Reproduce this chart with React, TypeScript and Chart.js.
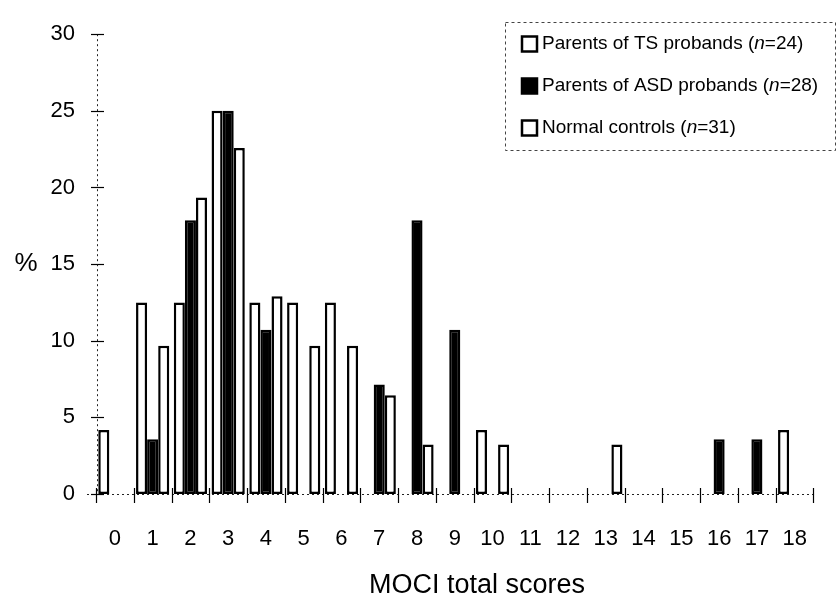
import React, { useEffect, useRef } from 'react';
import { Chart, registerables } from 'chart.js';

Chart.register(...registerables);

const categories = ['0', '1', '2', '3', '4', '5', '6', '7', '8', '9', '10', '11', '12', '13', '14', '15', '16', '17', '18'];
const tsValues = [4.17, 12.5, 12.5, 25, 12.5, 12.5, 12.5, 0, 0, 0, 4.17, 0, 0, 0, 0, 0, 0, 0, 4.17];
const asdValues = [0, 3.57, 17.86, 25, 10.71, 0, 0, 7.14, 17.86, 10.71, 0, 0, 0, 0, 0, 0, 3.57, 3.57, 0];
const ncValues = [0, 9.68, 19.35, 22.58, 12.9, 9.68, 9.68, 6.45, 3.23, 0, 3.23, 0, 0, 3.23, 0, 0, 0, 0, 0];
const yTicks = [0, 5, 10, 15, 20, 25, 30];
const seriesLabels = ['Parents of TS probands', 'Parents of ASD probands', 'Normal controls'];
const seriesN = ['24', '28', '31'];
const xTitle = 'MOCI total scores';
const yTitle = '%';
const yTitleAt = 15;

const FONT = "'Liberation Sans', Arial, Helvetica, sans-serif";

const nz = (arr: number[]) => arr.map((v) => (v === 0 ? null : v));

const decorPlugin = {
  id: 'decor',
  afterDraw(chart: any) {
    const { ctx, chartArea, scales } = chart;
    const xs = scales.x;
    const ys = scales.y;
    const y0 = ys.getPixelForValue(0);
    ctx.save();
    ctx.strokeStyle = '#222';
    ctx.lineWidth = 1;
    ctx.setLineDash([2, 3]);
    ctx.beginPath();
    ctx.moveTo(chartArea.left + 1.5, ys.getPixelForValue(30));
    ctx.lineTo(chartArea.left + 1.5, y0);
    ctx.stroke();
    ctx.beginPath();
    ctx.moveTo(chartArea.left - 9, y0 + 0.5);
    ctx.lineTo(chartArea.right, y0 + 0.5);
    ctx.stroke();
    ctx.setLineDash([]);
    ctx.strokeStyle = '#000';
    ctx.lineWidth = 1.2;
    yTicks.forEach((v) => {
      const py = Math.round(ys.getPixelForValue(v)) + 0.5;
      ctx.beginPath();
      ctx.moveTo(chartArea.left - 5, py);
      ctx.lineTo(chartArea.left + 8, py);
      ctx.stroke();
    });
    const n = categories.length;
    for (let i = 0; i <= n; i++) {
      let px;
      if (i === 0) px = chartArea.left;
      else if (i === n) px = chartArea.right - 1;
      else px = (xs.getPixelForValue(i - 1) + xs.getPixelForValue(i)) / 2;
      px = Math.round(px) + 0.5;
      ctx.beginPath();
      ctx.moveTo(px, y0 - 6);
      ctx.lineTo(px, y0 + 9);
      ctx.stroke();
    }
    ctx.fillStyle = '#000';
    ctx.font = `26px ${FONT}`;
    ctx.textAlign = 'center';
    ctx.textBaseline = 'middle';
    ctx.fillText(yTitle, 26, ys.getPixelForValue(yTitleAt));
    ctx.font = `27px ${FONT}`;
    ctx.fillText(xTitle, 477, 586);
    const bx = 505, by = 22, bw = 330, bh = 128;
    ctx.strokeStyle = '#444';
    ctx.lineWidth = 1;
    ctx.setLineDash([3, 3]);
    ctx.strokeRect(bx + 0.5, by + 0.5, bw, bh);
    ctx.setLineDash([]);
    const rowYs = [44, 86, 128];
    chart.data.datasets.forEach((ds: any, i: number) => {
      const cy = rowYs[i];
      const mx = 522, ms = 15;
      ctx.fillStyle = ds.backgroundColor;
      ctx.fillRect(mx, cy - ms / 2, ms, ms);
      ctx.strokeStyle = '#000';
      ctx.lineWidth = 2.5;
      ctx.strokeRect(mx, cy - ms / 2, ms, ms);
      ctx.fillStyle = '#000';
      ctx.textAlign = 'left';
      ctx.textBaseline = 'middle';
      let tx = 542;
      const parts = [
        { t: `${seriesLabels[i]} (`, it: false },
        { t: 'n', it: true },
        { t: `=${seriesN[i]})`, it: false },
      ];
      parts.forEach((p) => {
        ctx.font = `${p.it ? 'italic ' : ''}19px ${FONT}`;
        ctx.fillText(p.t, tx, cy);
        tx += ctx.measureText(p.t).width;
      });
    });
    ctx.restore();
  },
};

export default function App() {
  const ref = useRef<HTMLCanvasElement | null>(null);
  useEffect(() => {
    if (!ref.current) return;
    Chart.defaults.font.family = FONT;
    const barStyle = { borderColor: '#000', borderWidth: 2.5, borderSkipped: false as const };
    const chart = new Chart(ref.current, {
      type: 'bar',
      data: {
        labels: categories,
        datasets: [
          { label: seriesLabels[0], data: nz(tsValues), backgroundColor: '#ffffff', ...barStyle },
          { label: seriesLabels[1], data: nz(asdValues), backgroundColor: '#000000', ...barStyle },
          { label: seriesLabels[2], data: nz(ncValues), backgroundColor: '#ffffff', ...barStyle },
        ],
      },
      options: {
        animation: false,
        responsive: false,
        maintainAspectRatio: false,
        layout: { padding: { top: 22, right: 4, left: 0, bottom: 0 } },
        datasets: { bar: { categoryPercentage: 0.88, barPercentage: 1 } },
        plugins: { legend: { display: false }, tooltip: { enabled: false } },
        scales: {
          x: {
            offset: true,
            grid: { display: false, drawTicks: false },
            border: { display: false },
            ticks: {
              color: '#000',
              font: { size: 22, family: FONT },
              padding: 32,
              maxRotation: 0,
              autoSkip: false,
            },
            afterFit: (s: any) => {
              s.height = 115;
            },
          },
          y: {
            min: 0,
            max: 30,
            grid: { display: false, drawTicks: false },
            border: { display: false },
            ticks: {
              stepSize: 5,
              color: '#000',
              font: { size: 22, family: FONT },
              padding: 21,
            },
            afterFit: (s: any) => {
              s.width = 96;
            },
          },
        },
      } as any,
      plugins: [decorPlugin],
    });
    return () => chart.destroy();
  }, []);
  return (
    <div style={{ position: 'fixed', left: 0, top: 0, width: 839, height: 609, background: '#fff' }}>
      <canvas ref={ref} width={839} height={609} style={{ width: 839, height: 609, display: 'block' }} />
    </div>
  );
}
